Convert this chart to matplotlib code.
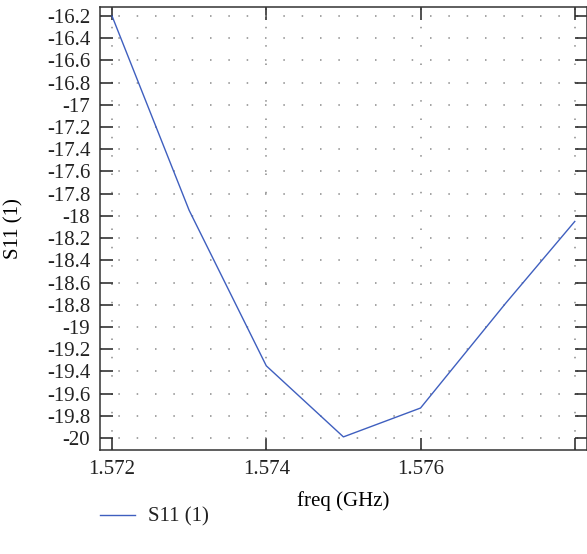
import numpy as np
import matplotlib
matplotlib.use('Agg')
import matplotlib.pyplot as plt

# S11 sweep
freq = [1.572, 1.573, 1.574, 1.575, 1.576, 1.5771, 1.578]
s11 = [-16.2, -17.95, -19.35, -19.99, -19.73, -18.79, -18.05]

xticks = [1.572, 1.574, 1.576, 1.578]
xticklabels = ['1.572', '1.574', '1.576', '']
yticks = np.round(np.arange(-20.0, -16.19, 0.2), 1)

plt.rcParams['font.family'] = ['Liberation Serif', 'DejaVu Serif']
plt.rcParams['text.color'] = '#222222'

fig = plt.figure(figsize=(5.87, 5.54), dpi=100)
ax = fig.add_axes([100/587, 1-450/554, 486.5/587, 443/554])

ax.plot(freq, s11, color='#3f5fbf', lw=1.0, label='S11 (1)')

ax.set_xlim(1.571844, 1.578152)
ax.set_ylim(-20.108, -16.119)
ax.set_xticks(xticks)
ax.set_xticklabels(xticklabels)
ax.set_yticks(yticks)
ax.set_yticklabels(['%g' % v for v in yticks])

ax.grid(True, color='#8a8a8a', linestyle=(0, (1, 11)), linewidth=1.1)
ax.tick_params(direction='in', length=9, width=1.1, top=True, right=True,
               labelsize=15, colors='#222222', pad=7)
for s in ax.spines.values():
    s.set_linewidth(1.1)
    s.set_color('#333333')

ax.set_xlabel('freq (GHz)', fontsize=15, labelpad=9)
ax.set_ylabel('S11 (1)', fontsize=15, labelpad=17)

fig.legend(loc='center left', bbox_to_anchor=(100/587, 1-517/554), frameon=False,
           fontsize=15, handlelength=1.7, handletextpad=0.6, borderpad=0,
           borderaxespad=0)

fig.savefig('out.png', dpi=100)
